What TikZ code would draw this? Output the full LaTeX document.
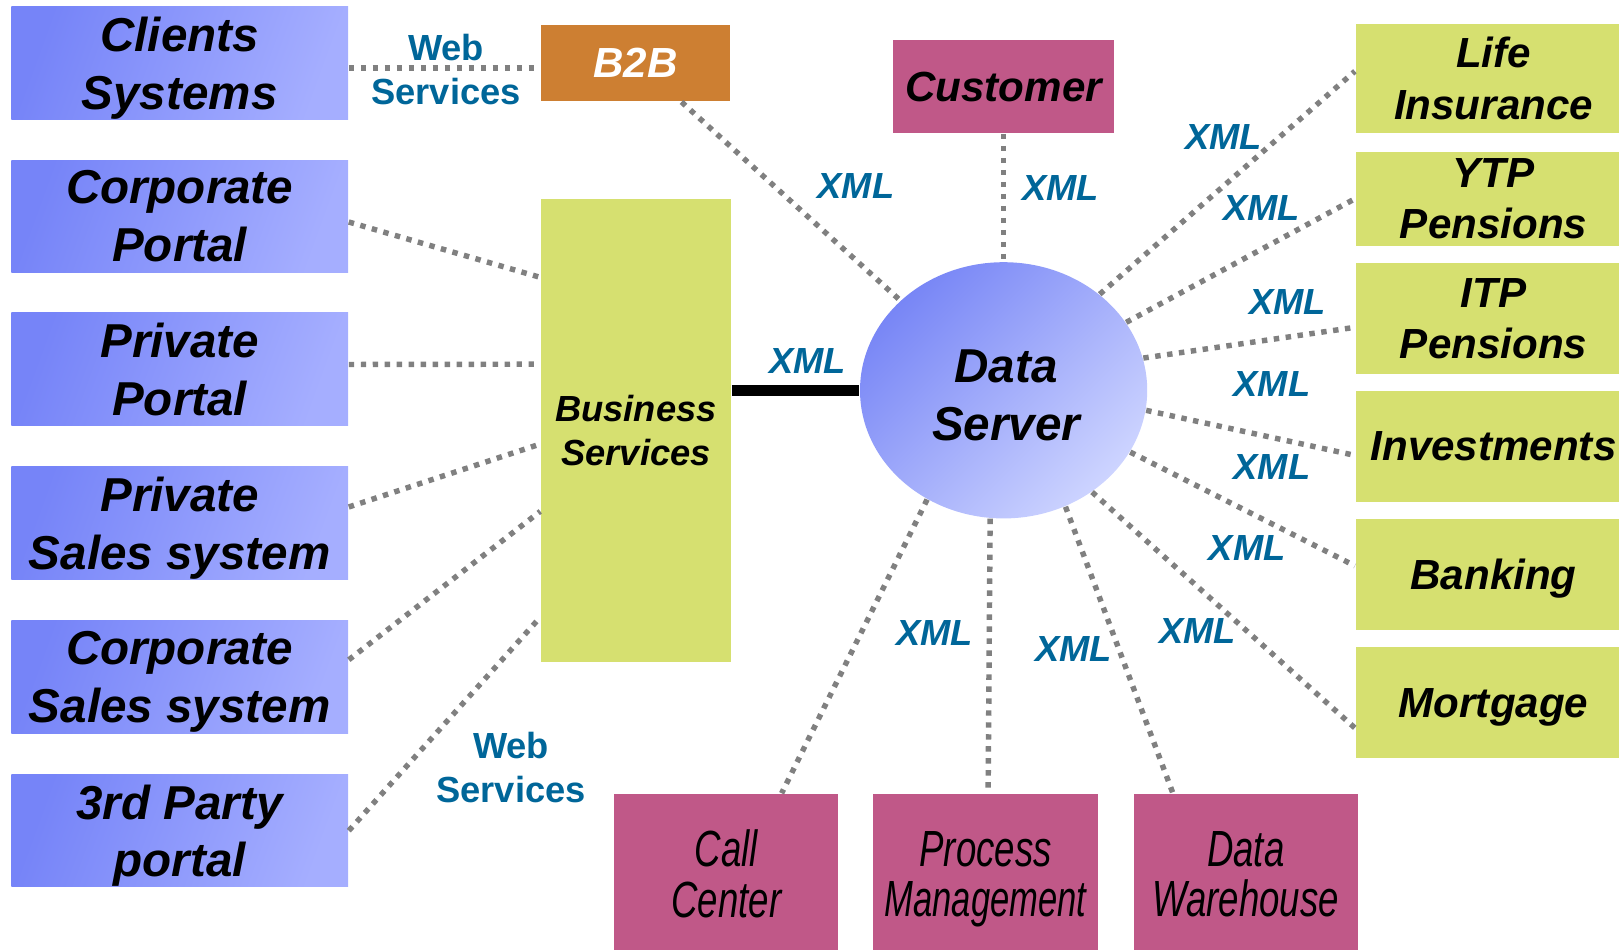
\documentclass[tikz,border=0pt]{standalone}
\usepackage{fontspec}
\setmainfont{Liberation Sans}
\usepackage{graphicx}
\usetikzlibrary{calc,shapes.geometric}
\definecolor{lbDark}{RGB}{118,132,248}
\definecolor{lbLight}{RGB}{165,174,255}
\definecolor{elDark}{RGB}{120,134,246}
\definecolor{elLight}{RGB}{205,212,255}
\definecolor{ygreen}{RGB}{214,224,112}
\definecolor{mag}{RGB}{192,88,136}
\definecolor{orng}{RGB}{205,127,50}
\definecolor{xmlblue}{RGB}{0,102,153}
\definecolor{dotgray}{RGB}{128,128,128}
\newcommand\condtxt[1]{\scalebox{0.72}[1]{#1}}
\newcommand\nodesc[1]{\raisebox{0pt}[\height][0pt]{#1}}
\newcommand\lboxfont{\fontsize{13.1}{15.9}\selectfont\bfseries\itshape}
\newcommand\rboxfont{\fontsize{11.6}{14.2}\selectfont\bfseries\itshape}
\newcommand\bboxfont{\fontsize{14}{13.9}\selectfont\itshape}
\newcommand\xmlfont{\fontsize{10}{12}\selectfont\bfseries\itshape}
\begin{document}
\begin{tikzpicture}[x=0.01cm,y=-0.01cm,
  lbox/.style={rectangle, inner sep=0pt, minimum width=3.26cm, minimum height=1.09cm,
    top color=lbDark, bottom color=lbLight, shading angle=70, align=center, font=\lboxfont},
  rbox/.style={rectangle, inner sep=0pt, fill=ygreen, minimum width=2.67cm, minimum height=1.07cm,
    align=center, font=\rboxfont},
  bbox/.style={rectangle, inner sep=0pt, fill=mag, minimum width=2.17cm, minimum height=1.55cm,
    align=center, font=\bboxfont},
  xml/.style={font=\xmlfont, text=xmlblue, inner sep=0pt},
  wslabel/.style={font=\fontsize{10}{12.2}\selectfont\bfseries, text=xmlblue, align=center, inner sep=0pt},
  dotline/.style={draw=dotgray, line width=1.5pt, dash pattern=on 1.5pt off 1.8pt},
  thickline/.style={draw=black, line width=3.2pt}]
\useasboundingbox (0,0) rectangle (1568,920);

% left boxes
\node[lbox] (cs)  at (174,61)    {Clients\\\nodesc{Systems}};
\node[lbox] (cp)  at (174,209.5) {Corporate\\Portal};
\node[lbox] (pp)  at (174,357.5) {Private\\Portal};
\node[lbox] (ps)  at (174,506.5) {Private\\\nodesc{Sales system}};
\node[lbox] (csy) at (174,655.5) {Corporate\\\nodesc{Sales system}};
\node[lbox] (tp)  at (174,804.5) {3rd Party\\\nodesc{portal}};

% top boxes
\node[rectangle, fill=orng, minimum width=1.83cm, minimum height=0.74cm, inner sep=0pt,
  text=white, font=\rboxfont] (b2b) at (615.5,61) {B2B};
\node[rectangle, fill=mag, minimum width=2.14cm, minimum height=0.9cm, inner sep=0pt,
  font=\rboxfont] (cust) at (972,84) {Customer};

% business services
\node[rectangle, fill=ygreen, minimum width=1.84cm, minimum height=4.48cm, inner sep=0pt,
  font=\fontsize{10}{12.2}\selectfont\bfseries\itshape, align=center] (bs) at (616,417) {Business\\Services};

% data server
\node[ellipse, minimum width=2.78cm, minimum height=2.48cm, inner sep=0pt,
  top color=elDark, bottom color=elLight, shading angle=45, font=\lboxfont, align=center]
  (ds) at (972,378) {\rule{0pt}{0.41cm}\hspace*{0.05cm}Data\\\hspace*{0.05cm}Server};

% right boxes (extend past the right edge of the page)
\node[rbox, minimum height=1.06cm] (life) at (1446.5,76)    {Life\\Insurance};
\node[rbox, minimum height=0.91cm] (ytp)  at (1446.5,192.5) {YTP\\Pensions};
\node[rbox] (itp)  at (1446.5,308.5) {ITP\\Pensions};
\node[rbox] (inv)  at (1446.5,432.5) {Investments};
\node[rbox] (bank) at (1446.5,556.5) {\nodesc{Banking}};
\node[rbox] (mort) at (1446.5,680.5) {\nodesc{Mortgage}};

% bottom boxes
\node[bbox] (call) at (703.5,846.5)  {\condtxt{Call}\\\condtxt{Center}};
\node[bbox] (proc) at (954.5,846.5)  {\condtxt{Process}\\\nodesc{\scalebox{0.68}[1]{Management}}};
\node[bbox] (dw)   at (1206.5,846.5) {\condtxt{Data}\\\condtxt{Warehouse}};

% connectors left
\draw[dotline] ([yshift=-0.05cm]cs.east) -- ([yshift=-0.05cm]b2b.west);
\draw[dotline] ([yshift=-0.055cm]cp.east) -- ($(bs.north west)!0.170!(bs.south west)$);
\draw[dotline] ([yshift=0.045cm]pp.east) -- ($(bs.north west)!0.357!(bs.south west)$);
\draw[dotline] ([yshift=0.155cm]ps.east) -- ($(bs.north west)!0.529!(bs.south west)$);
\draw[dotline] ([yshift=0.165cm]csy.east) -- ($(bs.north west)!0.674!(bs.south west)$);
\draw[dotline] (tp.east) -- ($(bs.north west)!0.902!(bs.south west)$);

% connectors to data server
\draw[thickline] (bs.east |- ds.west) -- (ds.west);
\draw[dotline] ([xshift=0.445cm]b2b.south) -- (ds.139.4);
\draw[dotline] (cust.south) -- (ds.90);
\draw[dotline] (ds.45)   -- ([yshift=0.07cm]life.west);
\draw[dotline] (ds.29.7) -- (ytp.west);
\draw[dotline] (ds.13.4) -- ([yshift=-0.085cm]itp.west);
\draw[dotline] (ds.-8)   -- ([yshift=-0.085cm]inv.west);
\draw[dotline] (ds.-26)  -- ([yshift=0.085cm]bank.west);
\draw[dotline] (ds.-49)  -- ([yshift=-0.245cm]mort.west);
\draw[dotline] (ds.-125.2) -- ([xshift=0.535cm]call.north);
\draw[dotline] (ds.-96.7)  -- ([xshift=0.025cm]proc.north);
\draw[dotline] (ds.-62.5)  -- ([xshift=-0.705cm]dw.north);

% labels
\node[wslabel] (ws1) at (432,67)  {Web\\Services};
\node[wslabel] (ws2) at (495,743) {Web\\Services};
\node[xml] (x1)  at (829,180)  {XML};
\node[xml] (x2)  at (1027,182) {XML};
\node[xml] (x3)  at (1185,133) {XML};
\node[xml] (x4)  at (1222,201) {XML};
\node[xml] (x5)  at (1247,292) {XML};
\node[xml] (x6)  at (1232,372) {XML};
\node[xml] (x7)  at (1232,452) {XML};
\node[xml] (x8)  at (1208,531) {XML};
\node[xml] (x9)  at (782,350)  {XML};
\node[xml] (x10) at (905,613)  {XML};
\node[xml] (x11) at (1040,629) {XML};
\node[xml] (x12) at (1160,611) {XML};
\end{tikzpicture}
\end{document}
